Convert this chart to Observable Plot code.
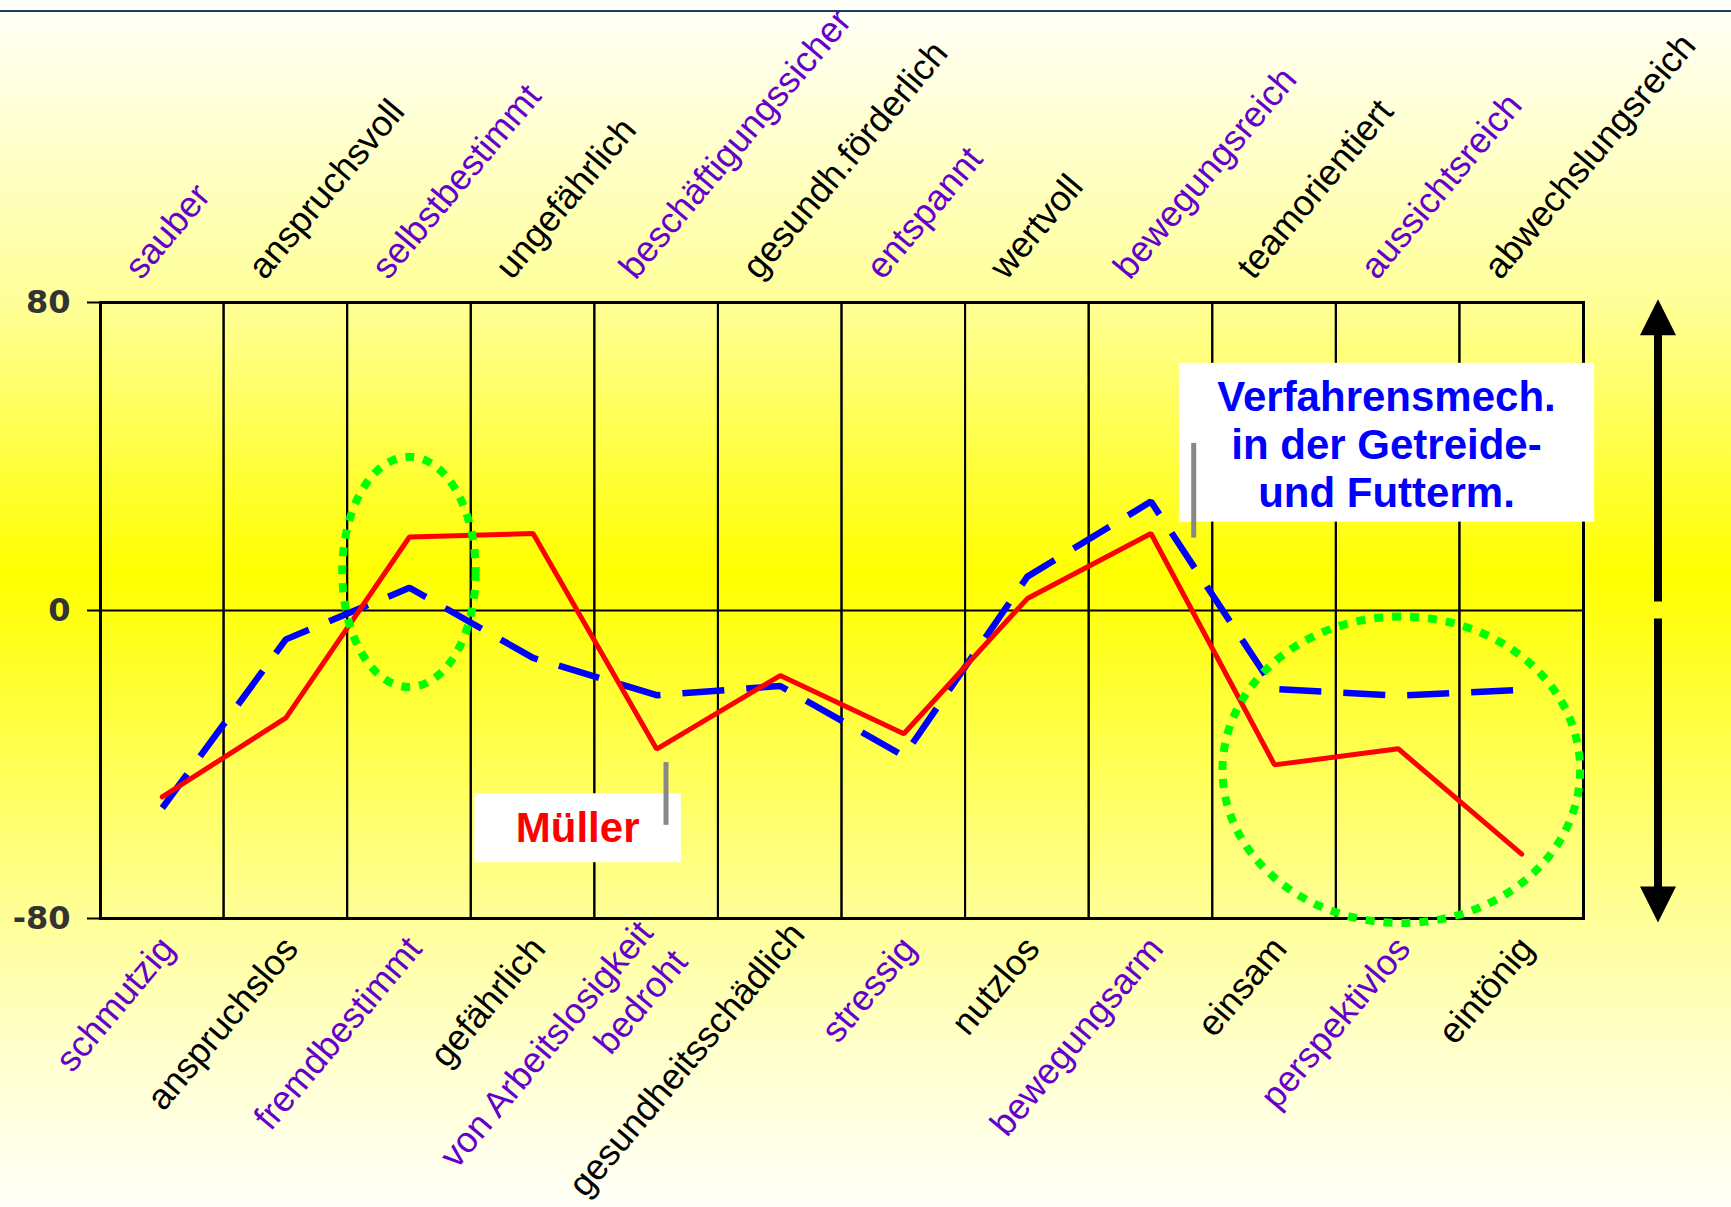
<!DOCTYPE html>
<html>
<head>
<meta charset="utf-8">
<script src="https://cdn.jsdelivr.net/npm/d3@7"></script>
<script src="https://cdn.jsdelivr.net/npm/@observablehq/plot@0.6"></script>
<style>
  html, body { margin: 0; padding: 0; }
  body {
    width: 1731px; height: 1207px; overflow: hidden;
    background: linear-gradient(to bottom, #FFFFFA 0%, #FFFFCC 12%, #FFFF99 25%, #FFFF00 47.5%, #FFFF99 76%, #FFFFD0 88%, #FFFFF8 100%);
  }
  #chart svg { display: block; }
</style>
</head>
<body>
<div id="chart"></div>
<script>
// ---- data ----
const topLabels = ["sauber", "anspruchsvoll", "selbstbestimmt", "ungefährlich", "beschäftigungssicher", "gesundh.förderlich", "entspannt", "wertvoll", "bewegungsreich", "teamorientiert", "aussichtsreich", "abwechslungsreich"];
const bottomLabels = ["schmutzig", "anspruchslos", "fremdbestimmt", "gefährlich", "von Arbeitslosigkeit\nbedroht", "gesundheitsschädlich", "stressig", "nutzlos", "bewegungsarm", "einsam", "perspektivlos", "eintönig"];
const muellerValues = [-48.4, -27.9, 19.1, 20.0, -36.0, -16.9, -32.0, 3.1, 20.0, -40.1, -35.9, -63.3];
const verfahrenValues = [-51.3, -7.5, 5.9, -12.3, -22.0, -19.6, -37.8, 8.8, 28.3, -20.4, -22.1, -20.6];
const yTicks = [80, 0, -80];
const seriesNames = ["Müller", "Verfahrensmech.\nin der Getreide-\nund Futterm."];

const mueller = topLabels.map((c, i) => ({cat: c, v: muellerValues[i]}));
const verfahren = topLabels.map((c, i) => ({cat: c, v: verfahrenValues[i]}));

const PURPLE = "#6600CC";
const labelFont = "Liberation Sans, Arial, sans-serif";
const ANGLE = -50;

const chart = Plot.plot({
  width: 1731,
  height: 1207,
  marginLeft: 100,
  marginRight: 148,
  marginTop: 302,
  marginBottom: 289,
  style: {background: "none", overflow: "visible"},
  x: {type: "band", domain: topLabels, padding: 0, round: false, axis: null},
  y: {domain: [-80, 80], axis: null},
  marks: [
    Plot.cell(topLabels, {x: d => d, fill: "none", stroke: "black", strokeWidth: 2}),
    Plot.ruleY(yTicks, {y: d => d, stroke: "black", strokeWidth: 2, insetLeft: -13}),
    Plot.frame({stroke: "black", strokeWidth: 3}),
    Plot.line(verfahren, {x: "cat", y: "v", stroke: "#0000FF", strokeWidth: 6.5, strokeDasharray: "42,22", strokeLinecap: "butt", strokeLinejoin: "miter"}),
    Plot.line(mueller, {x: "cat", y: "v", stroke: "#FF0000", strokeWidth: 5, strokeLinecap: "round", strokeLinejoin: "miter"}),
    Plot.text(yTicks, {y: d => d, text: d => String(d), frameAnchor: "left", textAnchor: "end", dx: -30,
      fontSize: 32, fontWeight: "bold", fontFamily: "DejaVu Sans, Verdana, sans-serif", fill: "#333333"}),
    Plot.text(topLabels, {x: d => d, text: d => d, frameAnchor: "top", rotate: ANGLE, textAnchor: "start", lineAnchor: "middle",
      dx: -30, dy: -29, fontSize: 36, fontFamily: labelFont, fill: (d, i) => i % 2 ? "#000000" : PURPLE}),
    Plot.text(bottomLabels, {x: (d, i) => topLabels[i], text: d => d, frameAnchor: "bottom", rotate: ANGLE, textAnchor: "end", lineAnchor: "middle",
      lineHeight: 1.25, dx: 3, dy: 22, fontSize: 36, fontFamily: labelFont, fill: (d, i) => i % 2 ? "#000000" : PURPLE})
  ]
});

document.getElementById("chart").appendChild(chart);

// keep long bottom labels inside the picture: slide them up along their own direction
const bottomSet = new Set(bottomLabels.map(s => s.replace("\n", "")));
const rad = Math.abs(ANGLE) * Math.PI / 180;
d3.select(chart).selectAll("text").each(function () {
  if (!bottomSet.has(this.textContent)) return;
  const r = this.getBoundingClientRect();
  const limit = 1204;
  if (r.bottom > limit) {
    const over = r.bottom - limit;
    const t = over / Math.sin(rad);
    const shiftX = t * Math.cos(rad), shiftY = -over;
    this.setAttribute("transform", `translate(${shiftX},${shiftY}) ` + (this.getAttribute("transform") || ""));
  }
});

// ---- annotations drawn with the plot's own scales ----
const svg = d3.select(chart);
const xs = chart.scale("x"), ys = chart.scale("y");
const x0 = xs.apply(topLabels[0]);
const bw = xs.bandwidth;
const bx = p => x0 + p * bw;          // position in band units from the left edge
const by = v => ys.apply(v);

const over = svg.append("g");

// top border line
over.append("line").attr("x1", 0).attr("x2", 1731).attr("y1", 11).attr("y2", 11)
  .attr("stroke", "#1F3864").attr("stroke-width", 2);

// green dotted ellipses
const ellipses = [
  {cx: 2.5, cy: 9.9, rx: 0.54, ry: 29.9},
  {cx: 10.53, cy: -41.5, rx: 1.447, ry: 39.8}
];
for (const e of ellipses) {
  over.append("ellipse")
    .attr("cx", bx(e.cx)).attr("cy", by(e.cy))
    .attr("rx", e.rx * bw).attr("ry", Math.abs(by(e.cy + e.ry) - by(e.cy)))
    .attr("fill", "none").attr("stroke", "#00FF00").attr("stroke-width", 8)
    .attr("stroke-dasharray", "9,9");
}

// label boxes
function box(p1, p2, v1, v2) {
  over.append("rect")
    .attr("x", bx(p1)).attr("y", by(v1))
    .attr("width", bx(p2) - bx(p1)).attr("height", by(v2) - by(v1))
    .attr("fill", "white");
}
function tick(p, v1, v2) {
  over.append("line").attr("x1", bx(p)).attr("x2", bx(p)).attr("y1", by(v1)).attr("y2", by(v2))
    .attr("stroke", "#888888").attr("stroke-width", 5);
}

box(3.03, 4.70, -47.6, -65.5);
tick(4.58, -39.5, -55.8);
over.append("text").attr("x", bx(3.865)).attr("y", by(-60.3))
  .attr("text-anchor", "middle").attr("font-family", labelFont).attr("font-weight", "bold")
  .attr("font-size", 42).attr("fill", "#FF0000").text(seriesNames[0]);

box(8.73, 12.09, 64.2, 22.95);
tick(8.85, 43.4, 18.8);
const vLines = seriesNames[1].split("\n");
const vBase = [51.8, 39.2, 26.8];
vLines.forEach((t, i) => {
  over.append("text").attr("x", bx(10.41)).attr("y", by(vBase[i]))
    .attr("text-anchor", "middle").attr("font-family", labelFont).attr("font-weight", "bold")
    .attr("font-size", 42).attr("fill", "#0000FF").text(t);
});

// double-headed arrow on the right
const ax = bx(12) + 75;
const head = 36, half = 18;
const topTip = by(80.7), botTip = by(-81.2);
over.append("line").attr("x1", ax).attr("x2", ax).attr("y1", by(2.2)).attr("y2", topTip + head - 1)
  .attr("stroke", "black").attr("stroke-width", 8);
over.append("line").attr("x1", ax).attr("x2", ax).attr("y1", by(-2.2)).attr("y2", botTip - head + 1)
  .attr("stroke", "black").attr("stroke-width", 8);
over.append("path").attr("d", `M${ax},${topTip}L${ax - half},${topTip + head}L${ax + half},${topTip + head}Z`).attr("fill", "black");
over.append("path").attr("d", `M${ax},${botTip}L${ax - half},${botTip - head}L${ax + half},${botTip - head}Z`).attr("fill", "black");
</script>
</body>
</html>
